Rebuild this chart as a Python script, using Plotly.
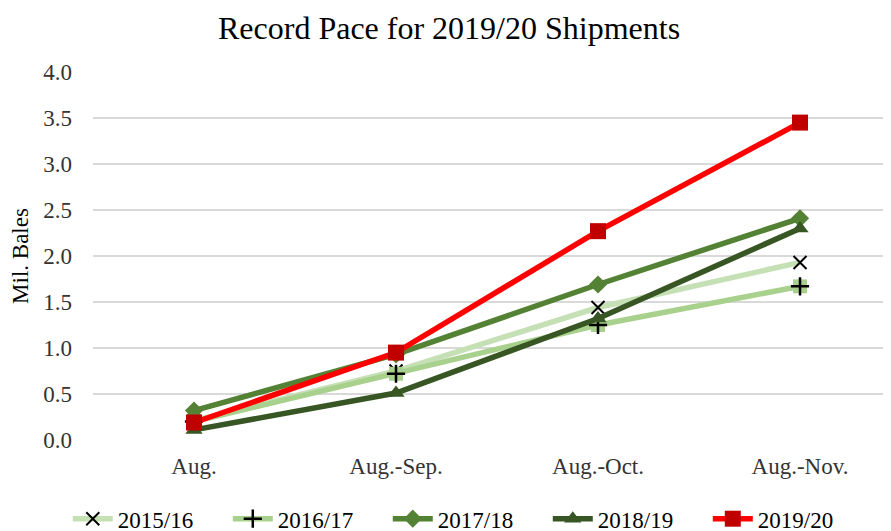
import plotly.graph_objects as go

categories = ["Aug.", "Aug.-Sep.", "Aug.-Oct.", "Aug.-Nov."]
s2015 = [0.21, 0.75, 1.44, 1.93]
s2016 = [0.20, 0.72, 1.25, 1.67]
s2017 = [0.32, 0.93, 1.69, 2.41]
s2018 = [0.11, 0.51, 1.32, 2.30]
s2019 = [0.19, 0.95, 2.27, 3.45]
yticks = [0, 0.5, 1.0, 1.5, 2.0, 2.5, 3.0, 3.5, 4.0]

x = list(range(len(categories)))
LW = 5.5
fig = go.Figure()
fig.add_trace(go.Scatter(x=x, y=s2015, name="2015/16", mode="lines+markers",
    line=dict(color="#c5e0b4", width=LW),
    marker=dict(symbol="x-thin", size=13, color="black", line=dict(color="black", width=2))))
fig.add_trace(go.Scatter(x=x, y=s2016, name="2016/17", mode="markers",
    marker=dict(symbol="square", size=14, color="#a9d18e"), legendgroup="g16", showlegend=False))
fig.add_trace(go.Scatter(x=x, y=s2016, name="2016/17", mode="lines+markers",
    line=dict(color="#a9d18e", width=LW), legendgroup="g16",
    marker=dict(symbol="cross-thin", size=13, color="black", line=dict(color="black", width=2.5))))
fig.add_trace(go.Scatter(x=x, y=s2017, name="2017/18", mode="lines+markers",
    line=dict(color="#548235", width=LW),
    marker=dict(symbol="diamond", size=14, color="#548235")))
fig.add_trace(go.Scatter(x=x, y=s2018, name="2018/19", mode="lines+markers",
    line=dict(color="#375623", width=LW),
    marker=dict(symbol="triangle-up", size=15, color="#375623")))
fig.add_trace(go.Scatter(x=x, y=s2019, name="2019/20", mode="lines+markers",
    line=dict(color="#ff0000", width=LW),
    marker=dict(symbol="square", size=16, color="#c00000")))

fig.update_layout(
    width=891, height=531,
    paper_bgcolor="white", plot_bgcolor="white",
    font=dict(family="Liberation Serif, Times New Roman, serif", color="#000000", size=23),
    title=dict(text="Record Pace for 2019/20 Shipments", x=0.495, xanchor="center",
               y=0.963, yanchor="middle", font=dict(size=32, color="#000000")),
    margin=dict(l=85, r=0, t=64, b=99, autoexpand=False),
    showlegend=True,
    legend=dict(orientation="h", x=0.465, xanchor="center",
                y=-0.214, yanchor="middle", entrywidth=105, entrywidthmode="pixels",
                font=dict(size=23, color="#000000"), itemwidth=40, tracegroupgap=0),
    xaxis=dict(tickmode="array", tickvals=x, ticktext=categories, range=[-0.5, 3.49],
               showgrid=False, showline=False, zeroline=False, ticks="", automargin=False,
               ticklabelstandoff=10, tickfont=dict(size=23, color="#333333")),
    yaxis=dict(range=[0, 4.0], tickvals=yticks, tickformat=".1f", automargin=False,
               showgrid=True, gridcolor="#d9d9d9", gridwidth=1.5, zeroline=False,
               showline=False, ticks="", ticklabelstandoff=20,
               title=dict(text="Mil. Bales", font=dict(size=23, color="#000000"), standoff=8),
               tickfont=dict(size=23, color="#333333")),
)
fig.write_html("out.html")
